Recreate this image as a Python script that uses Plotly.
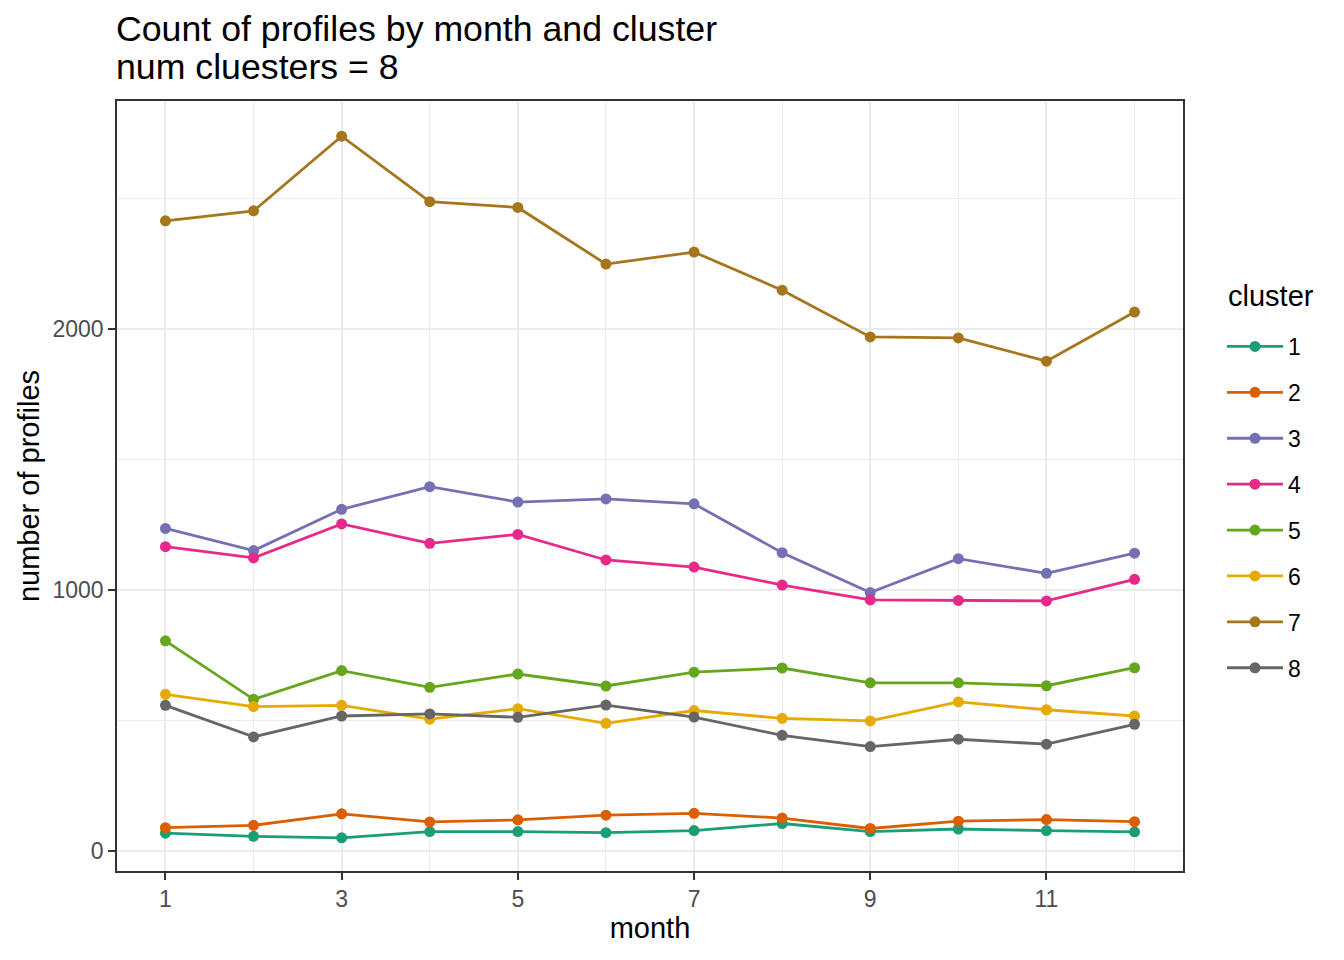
import plotly.graph_objects as go

months = list(range(1, 13))
clusters = ["1", "2", "3", "4", "5", "6", "7", "8"]
colors = ["#1B9E77", "#D95F02", "#7570B3", "#E7298A", "#66A61E", "#E6AB02", "#A6761D", "#666666"]

c1 = [68, 56, 50, 74, 74, 70, 78, 105, 74, 84, 78, 73]
c2 = [89, 98, 142, 111, 119, 137, 144, 126, 86, 114, 120, 112]
c3 = [1236, 1151, 1309, 1396, 1337, 1349, 1330, 1143, 990, 1120, 1064, 1141]
c4 = [1166, 1123, 1253, 1179, 1213, 1115, 1088, 1019, 962, 960, 958, 1041]
c5 = [805, 581, 691, 627, 678, 632, 685, 701, 644, 644, 633, 702]
c6 = [600, 553, 558, 505, 545, 489, 538, 508, 498, 571, 541, 517]
c7 = [2415, 2453, 2739, 2488, 2466, 2249, 2295, 2149, 1970, 1966, 1877, 2065]
c8 = [558, 437, 517, 525, 512, 559, 513, 443, 400, 428, 409, 485]
series = [c1, c2, c3, c4, c5, c6, c7, c8]

x_ticks = [1, 3, 5, 7, 9, 11]
y_ticks = [0, 1000, 2000]

title_line1 = "Count of profiles by month and cluster"
title_line2 = "num cluesters = 8"

FONT = "Liberation Sans"
W, H = 1336, 952  # page has an 8px body margin
OFF = 8
L, R, T, B = 117 - OFF, 1344 - 1183, 101 - OFF, 960 - 871
PH = H - T - B
PW = W - L - R

def py(page_y):
    return 1 + (T + OFF - page_y) / PH

def px(page_x):
    return (page_x - (L + OFF)) / PW

fig = go.Figure()
for name, vals, col in zip(clusters, series, colors):
    fig.add_trace(go.Scatter(
        x=months, y=vals, name=name, mode="lines+markers",
        line=dict(color=col, width=2.8),
        marker=dict(color=col, size=11),
        legendgroup=name,
    ))

grid_major = "#EBEBEB"
fig.update_layout(
    width=W, height=H,
    paper_bgcolor="white", plot_bgcolor="white",
    margin=dict(l=L, r=R, t=T, b=B),
    font=dict(family=FONT, color="black"),
    xaxis=dict(
        range=[0.45, 12.55], tickmode="array", tickvals=x_ticks,
        ticktext=[str(v) for v in x_ticks],
        showgrid=True, gridcolor=grid_major, gridwidth=2.4,
        minor=dict(tickmode="array", tickvals=[2, 4, 6, 8, 10, 12], showgrid=True,
                   gridcolor=grid_major, gridwidth=1.2, ticks=""),
        zeroline=False, showline=True, mirror=True, linecolor="#333333", linewidth=1.6,
        ticks="outside", ticklen=7, tickwidth=1.6, tickcolor="#333333",
        tickfont=dict(size=23, color="#4D4D4D", family=FONT),
        title=dict(text="month", font=dict(size=29, color="black", family=FONT), standoff=6),
    ),
    yaxis=dict(
        range=[-77, 2874], tickmode="array", tickvals=y_ticks,
        ticktext=[str(v) for v in y_ticks],
        showgrid=True, gridcolor=grid_major, gridwidth=2.4,
        minor=dict(tickmode="array", tickvals=[500, 1500, 2500], showgrid=True,
                   gridcolor=grid_major, gridwidth=1.2, ticks=""),
        zeroline=False, showline=True, mirror=True, linecolor="#333333", linewidth=1.6,
        ticks="outside", ticklen=7, tickwidth=1.6, tickcolor="#333333",
        tickfont=dict(size=23, color="#4D4D4D", family=FONT),
        title=dict(text="number of profiles", font=dict(size=29, color="black", family=FONT), standoff=4),
    ),
    legend=dict(
        font=dict(size=23, color="black", family=FONT),
        xref="container", yref="container",
        x=(1222 - OFF) / W, y=1 - (325 - OFF) / H, xanchor="left", yanchor="top",
        traceorder="grouped", tracegroupgap=13, itemwidth=56,
        bgcolor="rgba(0,0,0,0)",
    ),
    annotations=[
        dict(text=title_line1, xref="paper", yref="paper", x=px(114), y=py(29),
             xanchor="left", yanchor="middle", showarrow=False,
             font=dict(size=35.7, family=FONT, color="black")),
        dict(text=title_line2, xref="paper", yref="paper", x=px(114), y=py(67),
             xanchor="left", yanchor="middle", showarrow=False,
             font=dict(size=35.7, family=FONT, color="black")),
        dict(text="cluster", xref="paper", yref="paper",
             x=px(1226), y=py(296),
             xanchor="left", yanchor="middle", showarrow=False,
             font=dict(size=29, family=FONT, color="black")),
    ],
)

fig.write_html("out.html")
